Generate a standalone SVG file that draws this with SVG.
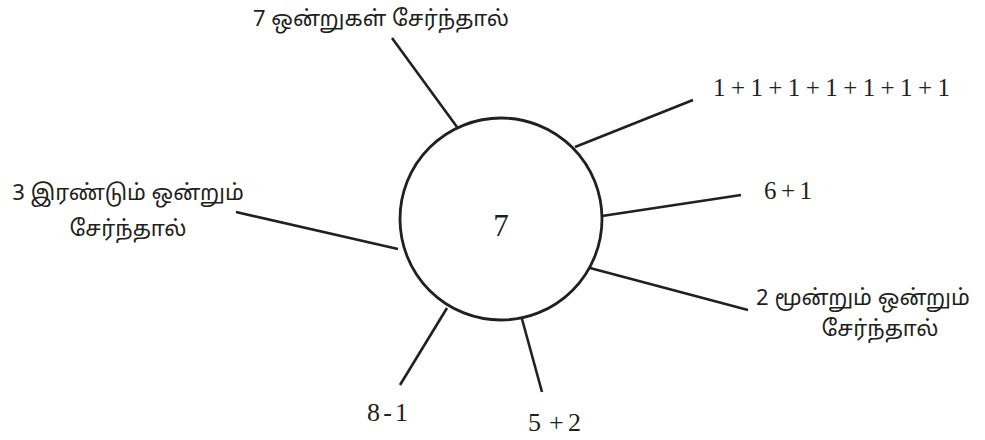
<svg xmlns="http://www.w3.org/2000/svg" width="985" height="440" viewBox="0 0 985 440">
<style>
.ta{font-family:"Noto Sans Tamil","Latha","Noto Sans","Liberation Sans",sans-serif;font-size:22px;fill:#231f20}
.num{font-family:"Liberation Serif","Times New Roman",serif;font-size:25px;fill:#231f20}
.ln{stroke:#231f20;stroke-width:2.6;fill:none;stroke-linecap:butt}
</style>
<rect width="985" height="440" fill="#fff"/>
<g id="connectors">
<line class="ln" x1="392" y1="38" x2="457" y2="127"/>
<line class="ln" x1="575" y1="147" x2="693" y2="100"/>
<line class="ln" x1="602" y1="216" x2="741" y2="195"/>
<line class="ln" x1="590" y1="268" x2="748" y2="310"/>
<line class="ln" x1="522" y1="319" x2="542" y2="392"/>
<line class="ln" x1="447" y1="308" x2="400" y2="385"/>
<line class="ln" x1="236" y1="212" x2="398" y2="249"/>
</g>
<g id="center">
<circle cx="501" cy="219" r="101" fill="#fff" stroke="#231f20" stroke-width="2.8"/>
<text class="num" x="501" y="236" text-anchor="middle" style="font-size:31px">7</text>
</g>
<g id="n-top"><text class="ta" x="381" y="26" text-anchor="middle">7 ஒன்றுகள் சேர்ந்தால்</text></g>
<g id="n-ones"><text class="num" x="713" y="96" textLength="237" lengthAdjust="spacing">1+1+1+1+1+1+1</text></g>
<g id="n-six"><text class="num" x="764" y="199" textLength="48" lengthAdjust="spacing">6+1</text></g>
<g id="n-left"><text class="ta" x="128" y="200" text-anchor="middle">3 இரண்டும் ஒன்றும்</text><text class="ta" x="128" y="236" text-anchor="middle">சேர்ந்தால்</text></g>
<g id="n-right"><text class="ta" x="863" y="305" text-anchor="middle">2 மூன்றும் ஒன்றும்</text><text class="ta" x="880" y="336" text-anchor="middle">சேர்ந்தால்</text></g>
<g id="n-eight"><text class="num" x="367" y="421" style="font-size:26px" textLength="41" lengthAdjust="spacing">8 - 1</text></g>
<g id="n-five"><text class="num" y="431" style="font-size:26px"><tspan x="528">5</tspan><tspan x="549">+</tspan><tspan x="568">2</tspan></text></g>
</svg>
